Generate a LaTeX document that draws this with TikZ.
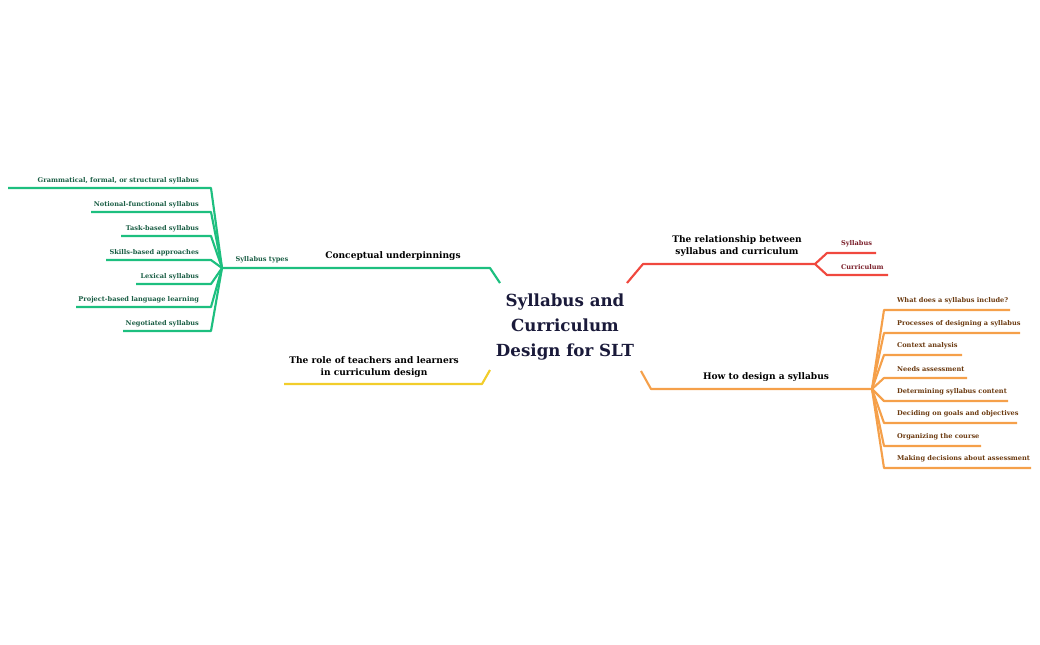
\documentclass[tikz,border=0pt]{standalone}
\usepackage{fontspec}
\setmainfont{DejaVu Serif}
\begin{document}
\begin{tikzpicture}[x=0.75pt,y=-0.75pt,line width=1.6pt,line join=round,
  sm/.style={font=\bfseries\fontsize{4.95}{6.5}\selectfont,inner sep=0pt},
  md/.style={font=\bfseries\fontsize{6.8}{8.6}\selectfont,inner sep=0pt,align=center}]
\useasboundingbox (0,0) rectangle (1040,644);
\definecolor{gr}{HTML}{1DBF7F}\definecolor{grt}{HTML}{1B5E45}
\definecolor{rd}{HTML}{F0483E}\definecolor{rdt}{HTML}{7A1F2A}
\definecolor{or}{HTML}{F5A04A}\definecolor{ort}{HTML}{6B3A10}
\definecolor{yl}{HTML}{F2CD2B}\definecolor{nv}{HTML}{1A1A3A}
\node[font=\bfseries\fontsize{12.5}{18.5}\selectfont,align=center,text=nv,inner sep=0pt] (c) at (565,327) {Syllabus and\\Curriculum\\Design for SLT};
% green
\coordinate (g0) at (500,283); \coordinate (g1) at (490,268); \coordinate (gh) at (222,268);
\draw[gr] (g0)--(g1)--(gh);
\node[md] (cu) at (393,256) {Conceptual underpinnings};
\node[sm,text=grt] (st) at (262,260) {Syllabus types};
\foreach \n/\y/\x/\t in {a/188/8/{Grammatical, formal, or structural syllabus},b/212/91/Notional-functional syllabus,c/236/121/Task-based syllabus,d/260/106/Skills-based approaches,e/284/136/Lexical syllabus,f/307/76/Project-based language learning,g/331/123/Negotiated syllabus}{
  \coordinate (gs\n) at (211,\y); \coordinate (ge\n) at (\x,\y);
  \draw[gr] (gh)--(gs\n)--(ge\n);
  \node[sm,text=grt,anchor=east] (gt\n) at (200,\y-7) {\t};
}
% yellow
\coordinate (y0) at (490,370); \coordinate (y1) at (482,384); \coordinate (y2) at (284,384);
\draw[yl] (y0)--(y1)--(y2);
\node[md] (yt) at (374,367) {The role of teachers and learners\\in curriculum design};
% red
\coordinate (r0) at (627,283); \coordinate (r1) at (643,264); \coordinate (rh) at (815,264);
\draw[rd] (r0)--(r1)--(rh);
\node[md] (rt) at (737,246) {The relationship between\\syllabus and curriculum};
\coordinate (ra1) at (827,253); \coordinate (ra2) at (876,253);
\coordinate (rb1) at (827,275); \coordinate (rb2) at (888,275);
\draw[rd] (rh)--(ra1)--(ra2); \draw[rd] (rh)--(rb1)--(rb2);
\node[sm,text=rdt,anchor=west] (rs) at (840,244) {Syllabus};
\node[sm,text=rdt,anchor=west] (rc) at (840,267) {Curriculum};
% orange
\coordinate (o0) at (641,371); \coordinate (o1) at (651,389); \coordinate (oh) at (872,389);
\draw[or] (o0)--(o1)--(oh);
\node[md] (ot) at (766,377) {How to design a syllabus};
\foreach \n/\y/\x/\t in {a/310/1010/What does a syllabus include?,b/333/1020/Processes of designing a syllabus,c/355/962/Context analysis,d/378/967/Needs assessment,e/401/1008/Determining syllabus content,f/423/1017/Deciding on goals and objectives,g/446/981/Organizing the course,h/468/1031/Making decisions about assessment}{
  \coordinate (os\n) at (884,\y); \coordinate (oe\n) at (\x,\y);
  \draw[or] (oh)--(os\n)--(oe\n);
  \node[sm,text=ort,anchor=west] (ot\n) at (896,\y-9) {\t};
}
\end{tikzpicture}
\end{document}
